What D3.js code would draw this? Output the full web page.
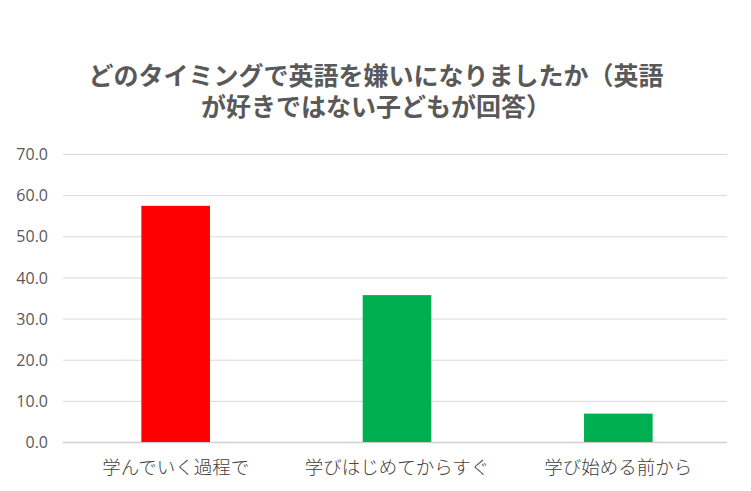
<!DOCTYPE html>
<html><head><meta charset="utf-8">
<script src="https://cdn.jsdelivr.net/npm/d3@7"></script>
<style>body{margin:0;background:#fff}svg{display:block}</style>
</head><body>
<script>
const categories = ["学んでいく過程で", "学びはじめてからすぐ", "学び始める前から"];
const values = [57.4, 35.7, 6.9];
const barColors = ["#ff0000", "#00b050", "#00b050"];
const yTicks = [0, 10, 20, 30, 40, 50, 60, 70];
const titleLines = ["どのタイミングで英語を嫌いになりましたか（英語", "が好きではない子どもが回答）"];

const W = 751, H = 491;
const svg = d3.select("body").append("svg").attr("width", W).attr("height", H);
const jp = "'Noto Sans CJK JP', 'Noto Sans', sans-serif";

const x = d3.scaleBand().domain(categories).range([65, 729]).paddingInner(0.69).paddingOuter(0.345);
const y = d3.scaleLinear().domain([0, 70]).range([442, 154]);

// gridlines
svg.append("g").selectAll("line").data(yTicks).join("line")
  .attr("x1", 63).attr("x2", 727)
  .attr("y1", d => y(d) + 0.5).attr("y2", d => y(d) + 0.5)
  .attr("stroke", d => d === 0 ? "#d0d0d0" : "#d9d9d9")
  .attr("stroke-width", d => d === 0 ? 1.5 : 1);

// y axis
const ya = svg.append("g").attr("transform", "translate(48,0)")
  .call(d3.axisLeft(y).tickValues(yTicks).tickFormat(d3.format(".1f")).tickSize(0).tickPadding(0));
ya.select(".domain").remove();
ya.selectAll("text").attr("font-family", "'Open Sans', sans-serif").attr("font-size", 16)
  .attr("fill", "#595959").attr("dy", "0.35em");

// bars
svg.append("g").selectAll("rect").data(values).join("rect")
  .attr("x", (d, i) => x(categories[i]))
  .attr("width", x.bandwidth())
  .attr("y", d => y(d))
  .attr("height", d => y(0) - y(d))
  .attr("fill", (d, i) => barColors[i]);

// x axis
const xa = svg.append("g").attr("transform", "translate(0,442)")
  .call(d3.axisBottom(x).tickSize(0).tickPadding(0));
xa.select(".domain").remove();
xa.selectAll("text").attr("font-family", jp).attr("font-weight", 300).attr("font-size", 18.5)
  .attr("fill", "#404040").attr("dy", "0").attr("y", 32);

// title (one text element, two lines)
const title = svg.append("text")
  .attr("text-anchor", "middle")
  .attr("font-family", jp).attr("font-weight", 700).attr("font-size", 25)
  .attr("fill", "#595959");
title.selectAll("tspan").data(titleLines).join("tspan")
  .attr("x", 376).attr("y", (d, i) => 85 + i * 31)
  .text(d => d);
</script>
</body></html>
